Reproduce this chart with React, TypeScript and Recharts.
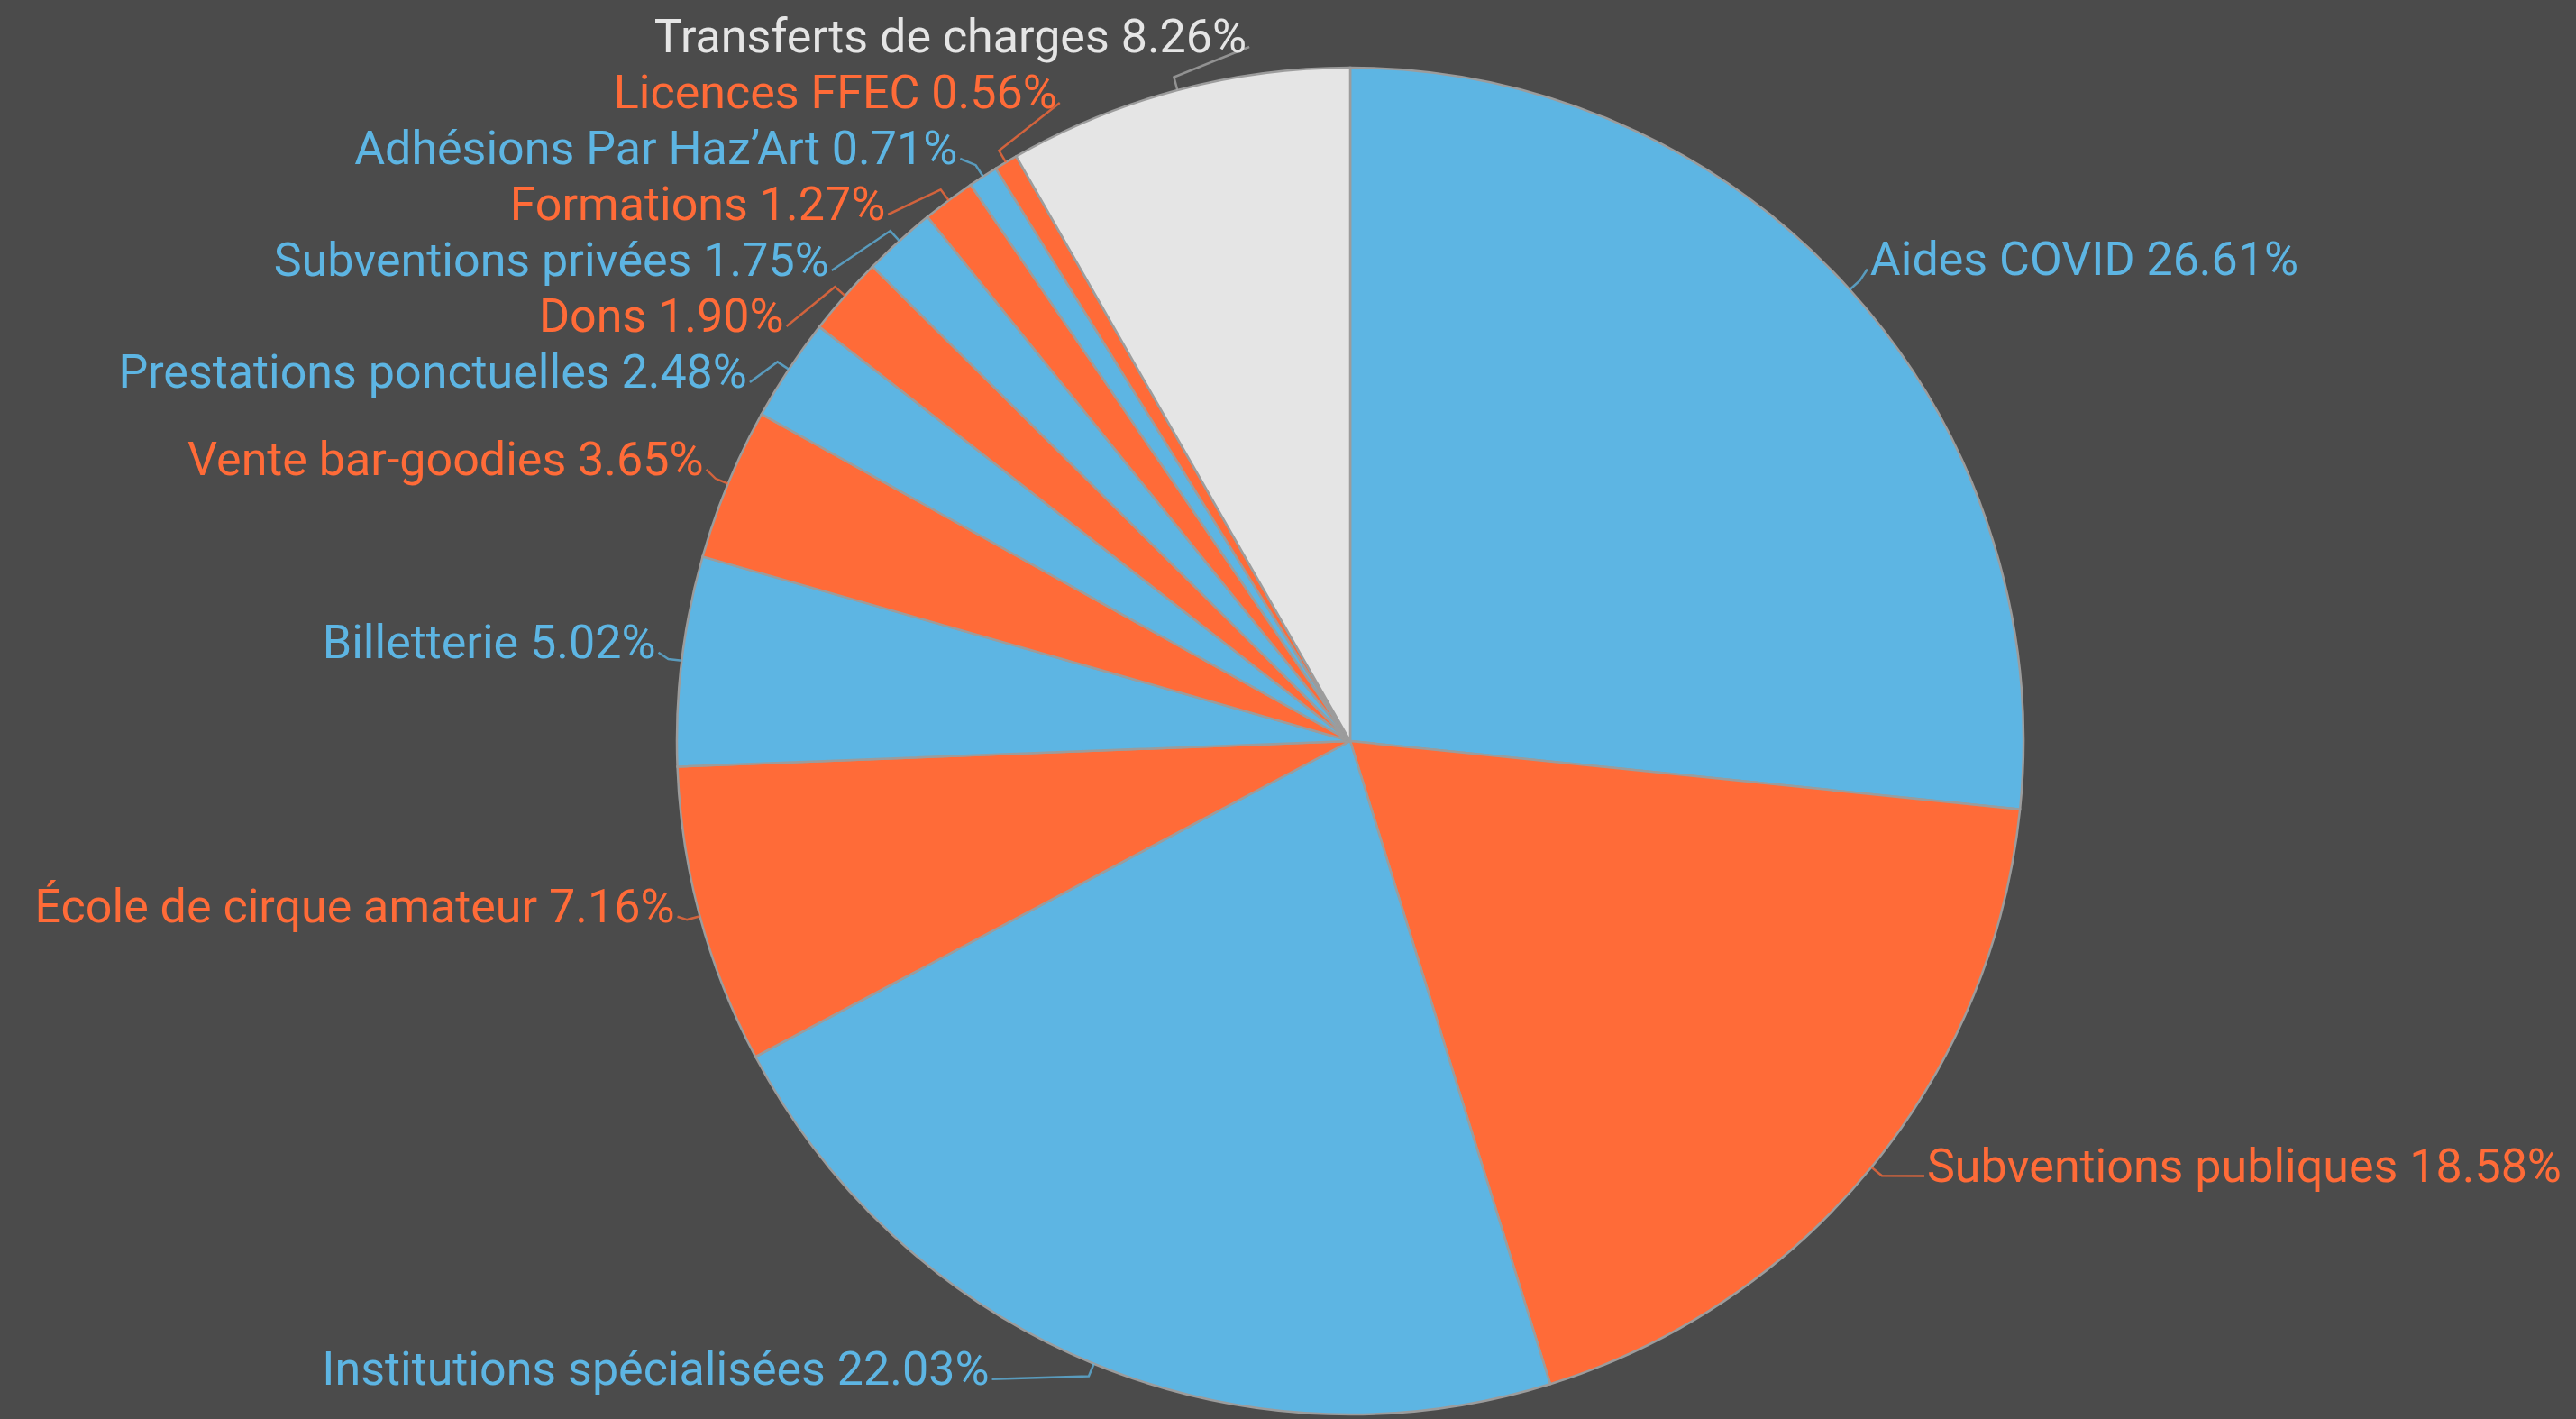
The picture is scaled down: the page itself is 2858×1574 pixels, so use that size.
import { PieChart, Pie, Cell } from "recharts";

const categories = [
  "Aides COVID",
  "Subventions publiques",
  "Institutions spécialisées",
  "École de cirque amateur",
  "Billetterie",
  "Vente bar-goodies",
  "Prestations ponctuelles",
  "Dons",
  "Subventions privées",
  "Formations",
  "Adhésions Par Haz’Art",
  "Licences FFEC",
  "Transferts de charges",
];

const shares = [
  26.61, 18.58, 22.03, 7.16, 5.02, 3.65, 2.48, 1.9, 1.75, 1.27, 0.71, 0.56, 8.26,
];

const W = 2858;
const H = 1574;
const BG = "#4b4b4b";
const BLUE = "#5db5e3";
const ORANGE = "#ff6b38";
const GREY = "#e5e5e5";

const FONT = 52;
const LABEL_PAD = 25; // radial distance of label anchor from the rim
const BEND = 15; // first segment of the label line
const ROW = 62; // min vertical distance between stacked labels
const TOP_LIMIT = 58;
const BOTTOM_LIMIT = H - 24;
const CLEARANCE = 30;

const sliceColor = (i: number) =>
  i === shares.length - 1 ? GREY : i % 2 === 0 ? BLUE : ORANGE;

const chartData = categories.map((name, i) => ({ name, value: shares[i] }));

type Spot = {
  side: number;
  ex: number;
  ey: number;
  bx: number;
  by: number;
  tx: number;
  ty: number;
};

const cache: Record<string, Spot[]> = {};

// spreads labels vertically per side, then puts them back on the label circle
function layoutLabels(cx: number, cy: number, r: number): Spot[] {
  const key = `${cx},${cy},${r}`;
  if (cache[key]) return cache[key];
  const total = shares.reduce((a, b) => a + b, 0);
  const R = r + LABEL_PAD;
  let acc = 0;
  const items = shares.map((v, i) => {
    const t = ((acc + v / 2) / total) * Math.PI * 2;
    acc += v;
    const s = Math.sin(t);
    const c = Math.cos(t);
    return { i, s, c, side: s < 0 ? -1 : 1, y: cy - R * c, ly: 0 };
  });

  [-1, 1].forEach((side) => {
    const list = items.filter((it) => it.side === side).sort((a, b) => a.y - b.y);
    const clamp = (top: number, n: number) =>
      Math.min(Math.max(top, TOP_LIMIT), BOTTOM_LIMIT - (n - 1) * ROW);
    let clusters = list.map((it) => ({ items: [it], top: clamp(it.y, 1) }));
    let merged = true;
    while (merged) {
      merged = false;
      for (let k = 1; k < clusters.length; k++) {
        const prev = clusters[k - 1];
        const cur = clusters[k];
        if (prev.top + prev.items.length * ROW > cur.top) {
          const all = prev.items.concat(cur.items);
          const mean =
            all.reduce((a, it, j) => a + (it.y - j * ROW), 0) / all.length;
          clusters.splice(k - 1, 2, { items: all, top: clamp(mean, all.length) });
          merged = true;
          break;
        }
      }
    }
    clusters.forEach((cl) => cl.items.forEach((it, j) => (it.ly = cl.top + j * ROW)));
  });

  const spots = items.map((it) => {
    const dy = it.ly - cy;
    const dx = Math.sqrt(Math.max(R * R - dy * dy, 0));
    let edgeX = cx + it.side * dx + it.side * 4;
    // keep the text box off the pie
    const nearY = Math.min(Math.max(cy, it.ly - 48), it.ly + 12);
    const dist = Math.hypot(edgeX - cx, nearY - cy);
    if (dist < r) {
      const dyN = Math.abs(nearY - cy);
      edgeX = cx + it.side * Math.sqrt((r + CLEARANCE) ** 2 - dyN * dyN);
    }
    return {
      side: it.side,
      ex: cx + r * it.s,
      ey: cy - r * it.c,
      bx: cx + (r + BEND) * it.s,
      by: cy - (r + BEND) * it.c,
      tx: edgeX,
      ty: it.ly,
    };
  });
  cache[key] = spots;
  return spots;
}

function renderLabel(props: any) {
  const { cx, cy, outerRadius, index } = props;
  const spot = layoutLabels(cx, cy, outerRadius)[index];
  const color = sliceColor(index);
  const endX = spot.tx - spot.side * 3;
  const endY = spot.ty - 6;
  return (
    <g key={`lbl-${index}`}>
      <polyline
        points={`${spot.ex},${spot.ey} ${spot.bx},${spot.by} ${endX},${endY}`}
        fill='none'
        stroke={index === shares.length - 1 ? "#aaaaaa" : color}
        strokeOpacity={0.75}
        strokeWidth={2.5}
      />
      <text
        x={spot.tx}
        y={spot.ty}
        textAnchor={spot.side < 0 ? "end" : "start"}
        fill={color}
        fontSize={FONT}
        fontFamily='Roboto, sans-serif'
      >
        {`${categories[index]} ${shares[index].toFixed(2)}%`}
      </text>
    </g>
  );
}

export default function App() {
  return (
    <div
      style={{
        position: "fixed",
        left: 0,
        top: 0,
        width: W,
        height: H,
        background: BG,
      }}
    >
      <PieChart width={W} height={H} margin={{ top: 0, right: 0, bottom: 0, left: 0 }}>
        <Pie
          data={chartData}
          dataKey='value'
          nameKey='name'
          cx={1498}
          cy={822}
          outerRadius={747}
          startAngle={90}
          endAngle={-270}
          stroke='#9c9c9c'
          strokeWidth={2.5}
          label={renderLabel}
          labelLine={false}
          isAnimationActive={false}
        >
          {chartData.map((d, i) => (
            <Cell key={d.name} fill={sliceColor(i)} />
          ))}
        </Pie>
      </PieChart>
    </div>
  );
}
